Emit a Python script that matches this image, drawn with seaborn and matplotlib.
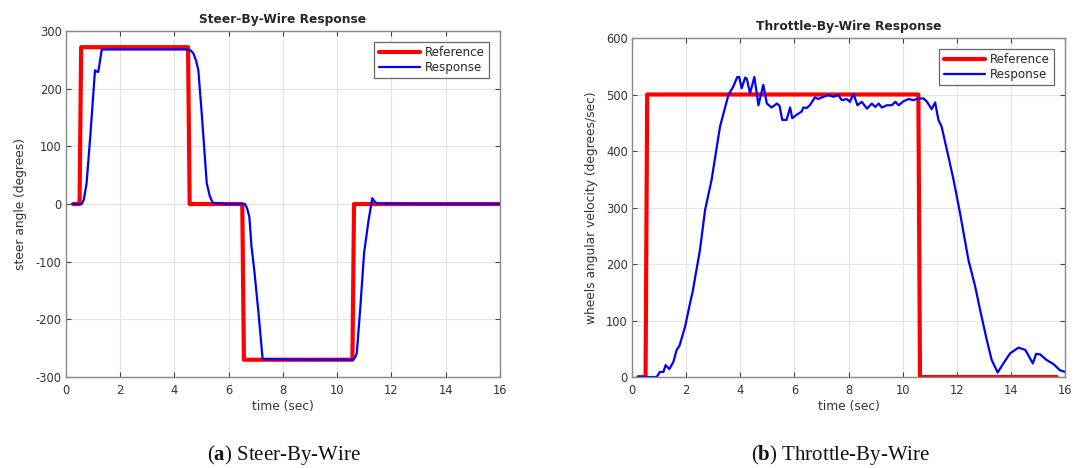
import numpy as np
import pandas as pd
import matplotlib
matplotlib.use("Agg")
import matplotlib.pyplot as plt
import seaborn as sns

# Steer-by-wire: commanded and measured steering angle (degrees)
steer_ref_t = [0.26, 0.50, 0.56, 4.50, 4.56, 6.50, 6.56, 10.56, 10.62, 16.0]
steer_ref_v = [0, 0, 272, 272, 0, 0, -270, -270, 0, 0]
steer_resp_t = [0.26, 0.58, 0.66, 0.76, 0.90, 1.07, 1.12, 1.19, 1.32, 2.0, 4.0, 4.51,
                4.60, 4.69, 4.80, 4.88, 5.00, 5.19, 5.30, 5.41, 6.0, 6.60, 6.68,
                6.76, 6.84, 6.94, 7.10, 7.25, 9.0, 10.59, 10.66, 10.72, 10.85,
                10.99, 11.15, 11.29, 11.37, 11.45, 13.0, 16.0]
steer_resp_v = [0, 0, 8, 36, 120, 232, 230, 229, 268, 268, 268, 268,
                266, 262, 248, 232, 160, 36, 14, 2, 0, 0, -8,
                -22, -74, -114, -190, -269, -270, -270, -266, -259, -180,
                -85, -30, 10, 5, 1, 0, 0]

# Throttle-by-wire: commanded and measured wheel angular velocity (deg/s)
thr_ref_t = [0.23, 0.50, 0.56, 10.58, 10.64, 15.69]
thr_ref_v = [0, 0, 500, 500, 0, 0]
thr_resp_t = [0.23, 0.91, 1.03, 1.16, 1.24, 1.38, 1.53, 1.65, 1.75, 1.96, 2.14,
              2.24, 2.51, 2.70, 2.94, 3.25, 3.56, 3.74, 3.89, 3.96, 4.05, 4.18,
              4.24, 4.36, 4.52, 4.67, 4.85, 4.98, 5.16, 5.35, 5.45, 5.55, 5.71,
              5.84, 5.92, 6.08, 6.27, 6.33, 6.45, 6.57, 6.76, 6.88, 7.07, 7.25,
              7.44, 7.62, 7.75, 7.93, 8.05, 8.18, 8.33, 8.49, 8.68, 8.86, 8.99,
              9.11, 9.23, 9.42, 9.60, 9.73, 9.85, 10.03, 10.22, 10.40, 10.58,
              10.77, 10.90, 11.07, 11.20, 11.32, 11.44, 11.69, 11.88, 12.12,
              12.43, 12.68, 12.86, 13.11, 13.29, 13.51, 13.72, 13.97, 14.28,
              14.53, 14.81, 14.93, 15.08, 15.32, 15.57, 15.81, 16.0]
thr_resp_v = [0, 0, 9, 9, 21, 14, 27, 48, 55, 89, 130,
              151, 225, 296, 349, 443, 499, 514, 531, 531, 511, 530,
              528, 502, 531, 481, 517, 484, 477, 484, 480, 455, 455,
              477, 458, 464, 470, 477, 476, 481, 495, 492, 496, 499,
              496, 499, 490, 492, 487, 501, 481, 487, 475, 484, 478,
              484, 477, 481, 481, 487, 481, 488, 492, 490, 493,
              493, 487, 474, 486, 455, 443, 390, 349, 290,
              207, 160, 119, 65, 30, 8, 24, 42, 52,
              48, 24, 41, 40, 30, 23, 12, 9]

time_ticks = list(range(0, 17, 2))
steer_ticks = list(range(-300, 301, 100))
thr_ticks = list(range(0, 601, 100))

sns.set_theme(style="whitegrid")
plt.rcParams["font.family"] = ["DejaVu Sans"]
plt.rcParams["axes.unicode_minus"] = False
plt.rcParams["mathtext.fontset"] = "custom"
plt.rcParams["mathtext.rm"] = "Liberation Serif"
plt.rcParams["mathtext.bf"] = "Liberation Serif:bold"

fig = plt.figure(figsize=(10.78, 4.68), dpi=100)
ax1 = fig.add_axes([0.0612, 0.1944, 0.4026, 0.7393])
ax2 = fig.add_axes([0.5863, 0.1944, 0.4017, 0.7244])

RED = "#ff0000"
BLUE = "#0000ff"
TXT = "#333333"


def draw(ax, ref_t, ref_v, resp_t, resp_v):
    ref = pd.DataFrame({"t": ref_t, "v": ref_v})
    resp = pd.DataFrame({"t": resp_t, "v": resp_v})
    sns.lineplot(data=ref, x="t", y="v", ax=ax, color=RED, linewidth=3.0,
                 label="Reference", estimator=None, sort=False)
    sns.lineplot(data=resp, x="t", y="v", ax=ax, color=BLUE, linewidth=1.6,
                 label="Response", estimator=None, sort=False)


def style(ax, yticks, ylabel, title):
    ax.set_facecolor("white")
    ax.set_xlim(0, 16)
    ax.set_ylim(yticks[0], yticks[-1])
    ax.set_xticks(time_ticks)
    ax.set_yticks(yticks)
    ax.grid(True, color="#e3e3e3", linewidth=0.8)
    for sp in ax.spines.values():
        sp.set_color("#8a8a8a")
        sp.set_linewidth(1.0)
    ax.tick_params(direction="in", length=3.5, width=0.8, color="#444444",
                   labelsize=8.3, labelcolor=TXT, top=True, right=True,
                   bottom=True, left=True, pad=3)
    ax.tick_params(axis="x", pad=5)
    ax.set_xlabel("time (sec)", fontsize=8.8, color=TXT, labelpad=2)
    ax.set_ylabel(ylabel, fontsize=8.8, color=TXT, labelpad=6)
    ax.set_title(title, fontsize=8.8, fontweight="bold", pad=6)
    leg = ax.legend(loc="upper right", fontsize=8.6, frameon=True, fancybox=False,
                    framealpha=1, edgecolor="#666666", borderpad=0.35,
                    handlelength=3.5, labelspacing=0.15, handletextpad=0.4,
                    borderaxespad=0.9)
    leg.get_frame().set_linewidth(0.9)


draw(ax1, steer_ref_t, steer_ref_v, steer_resp_t, steer_resp_v)
style(ax1, steer_ticks, "steer angle (degrees)", "Steer-By-Wire Response")

draw(ax2, thr_ref_t, thr_ref_v, thr_resp_t, thr_resp_v)
style(ax2, thr_ticks, "wheels angular velocity (degrees/sec)", "Throttle-By-Wire Response")

# Sub-figure captions
cap_kw = dict(fontsize=15, family="Liberation Serif", ha="center", va="center",
              color="#111111")
fig.text(284 / 1078, 1 - 455 / 468, r"($\mathbf{a}$) Steer-By-Wire", **cap_kw)
fig.text(841 / 1078, 1 - 455 / 468, r"($\mathbf{b}$) Throttle-By-Wire", **cap_kw)

fig.savefig("out.png", dpi=100, facecolor="white")
